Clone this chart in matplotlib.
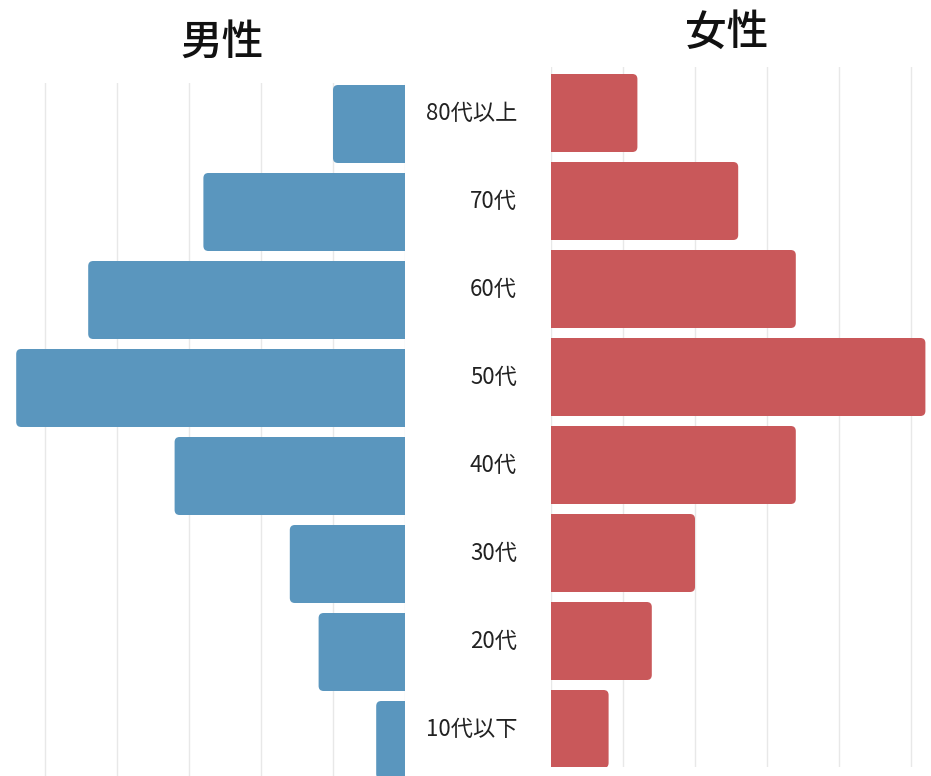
import matplotlib
matplotlib.use('Agg')
import matplotlib.pyplot as plt
from matplotlib.patches import FancyBboxPatch

plt.rcParams['font.family'] = ['Noto Sans CJK JP', 'DejaVu Sans']

# Données
age_groups = ['80代以上', '70代', '60代', '50代', '40代', '30代', '20代', '10代以下']
male = [5, 14, 22, 27, 16, 8, 6, 2]
female = [6, 13, 17, 26, 17, 10, 7, 4]
grid_ticks = [0, 5, 10, 15, 20, 25]

blue = '#5a96be'
red = '#c9585a'

W, H = 931, 776
fig = plt.figure(figsize=(W / 100, H / 100), dpi=100)
px_per_unit = 72 / 5
row_px = 88

# left panel (male), bars going left
ax_m = fig.add_axes([0, 0, 405 / W, (776 - 83) / H])
# right panel (female)
ax_f = fig.add_axes([551 / W, (H - 767) / H, (W - 551) / W, (767 - 67) / H])

pos = list(range(len(age_groups)))


def rounded_bars(ax, values, color):
    bars = ax.barh(pos, values, height=78 / row_px, color=color, zorder=2)
    # remplacer par des rectangles arrondis (coin interne caché hors axes)
    for b in bars:
        x, y, w, h = b.get_x(), b.get_y(), b.get_width(), b.get_height()
        b.set_visible(False)
        p = FancyBboxPatch((x - 0.6, y), w + 0.6, h,
                           boxstyle='round,pad=0,rounding_size=0.35',
                           mutation_aspect=px_per_unit / row_px,
                           facecolor=color, edgecolor='none', zorder=2)
        ax.add_patch(p)


rounded_bars(ax_m, male, blue)
ax_m.set_xlim(405 / px_per_unit, 0)
ax_m.set_ylim(7 + 36 / row_px, -41 / row_px)

rounded_bars(ax_f, female, red)
ax_f.set_xlim(0, (W - 551) / px_per_unit)
ax_f.set_ylim(7 + 38 / row_px, -46 / row_px)

for ax in (ax_m, ax_f):
    ax.set_xticks(grid_ticks)
    ax.grid(axis='x', color='#e8e8e8', linewidth=1, zorder=0)
    ax.tick_params(length=0, labelbottom=False, labelleft=False)
    for s in ax.spines.values():
        s.set_visible(False)

# labels in the middle
for i, lab in enumerate(age_groups):
    ax_f.text(-34 / px_per_unit, i, lab, ha='right', va='center',
              fontsize=16, color='#222222', clip_on=False)

fig.text(222 / W, 1 - 42 / H, '男性', ha='center', va='center',
         fontsize=30, fontweight='medium', color='#111111')
fig.text(727 / W, 1 - 32 / H, '女性', ha='center', va='center',
         fontsize=30, fontweight='medium', color='#111111')

fig.savefig('out.png', dpi=100, facecolor='white')
